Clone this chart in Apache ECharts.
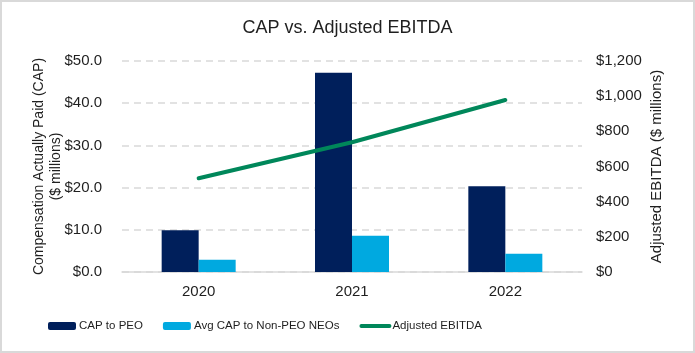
<!DOCTYPE html>
<html>
<head>
<meta charset="utf-8">
<script src="https://cdn.jsdelivr.net/npm/echarts@6/dist/echarts.min.js"></script>
<style>
  html, body { margin: 0; padding: 0; background: #fff; }
  #chart { width: 695px; height: 353px; box-sizing: border-box; border: 2px solid #d9d9d9; }
</style>
</head>
<body>
<div id="chart"></div>
<script>
const years = ["2020", "2021", "2022"];
const capPeo = [9.9, 47.2, 20.3];
const capNonPeo = [2.9, 8.6, 4.3];
const ebitda = [533, 738, 978];

const font = "'Liberation Sans', Arial, sans-serif";
const txt = "#1f1f1f";
const green = "#00875a";
const gridLine = { lineStyle: { color: "#d9d9d9", width: 1.5, type: [7, 5] } };

const chart = echarts.init(document.getElementById("chart"));
chart.setOption({
  animation: false,
  textStyle: { fontFamily: font, color: txt },
  title: {
    text: "CAP vs. Adjusted EBITDA",
    left: "center",
    top: 12,
    textStyle: { fontSize: 18, fontWeight: "normal", color: txt, fontFamily: font },
  },
  grid: { left: 120, right: 111, top: 59, bottom: 79 },
  legend: {
    left: 41,
    top: 313,
    itemWidth: 28,
    itemHeight: 8,
    itemGap: 20,
    textStyle: { fontSize: 11.5, color: txt, fontFamily: font, padding: [0, 0, 0, -2] },
    data: [
      "CAP to PEO",
      "Avg CAP to Non-PEO NEOs",
      { name: "Adjusted EBITDA", itemStyle: { opacity: 0 }, lineStyle: { width: 4, color: green, cap: "round" } },
    ],
  },
  xAxis: {
    type: "category",
    data: years,
    axisLine: { lineStyle: { color: "#d9d9d9", width: 1.5 } },
    axisTick: { show: false },
    axisLabel: { fontSize: 15, color: txt, margin: 12 },
  },
  yAxis: [
    {
      type: "value",
      min: 0, max: 50, interval: 10,
      name: "Compensation Actually Paid (CAP)\n($ millions)",
      nameLocation: "middle",
      nameGap: 57,
      nameMoveOverlap: false,
      nameTextStyle: { fontSize: 14, color: txt, lineHeight: 17 },
      axisLabel: { fontSize: 15, color: txt, margin: 20, formatter: (v) => "$" + v.toFixed(1) },
      splitLine: gridLine,
    },
    {
      type: "value",
      min: 0, max: 1200, interval: 200,
      name: "Adjusted EBITDA ($ millions)",
      nameLocation: "middle",
      nameGap: 67,
      nameMoveOverlap: false,
      nameTextStyle: { fontSize: 15, color: txt },
      axisLabel: { fontSize: 15, color: txt, margin: 14, formatter: (v) => "$" + v.toLocaleString("en-US") },
      splitLine: { show: false },
    },
  ],
  series: [
    {
      name: "CAP to PEO",
      type: "bar",
      data: capPeo,
      barWidth: 37,
      barGap: "0%",
      itemStyle: { color: "#001f5b" },
    },
    {
      name: "Avg CAP to Non-PEO NEOs",
      type: "bar",
      data: capNonPeo,
      barWidth: 37,
      itemStyle: { color: "#00a9e0" },
    },
    {
      name: "Adjusted EBITDA",
      type: "line",
      yAxisIndex: 1,
      data: ebitda,
      symbol: "none",
      lineStyle: { color: green, width: 4, cap: "round" },
      itemStyle: { color: green },
    },
  ],
});
</script>
</body>
</html>
